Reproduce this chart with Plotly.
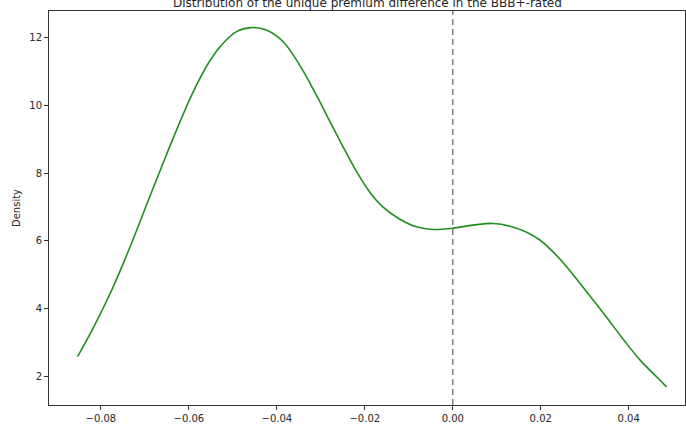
import plotly.graph_objects as go

# KDE curve values
diff_x = [-0.0853, -0.0815, -0.0773, -0.0744, -0.0712, -0.0682, -0.0651, -0.0621,
          -0.0591, -0.0555, -0.0530, -0.0492, -0.0458, -0.0424, -0.0386, -0.0348,
          -0.0310, -0.0280, -0.0250, -0.0219, -0.0189, -0.0159, -0.0122, -0.0083,
          -0.0045, 0.0000, 0.0046, 0.0092, 0.0130, 0.0168, 0.0198, 0.0228,
          0.0259, 0.0289, 0.0319, 0.0350, 0.0388, 0.0426, 0.0464, 0.0486]
density = [2.57, 3.48, 4.61, 5.49, 6.53, 7.53, 8.54, 9.49,
           10.38, 11.26, 11.72, 12.18, 12.30, 12.23, 11.89, 11.19,
           10.30, 9.54, 8.79, 8.05, 7.44, 7.00, 6.65, 6.41,
           6.33, 6.37, 6.46, 6.51, 6.43, 6.25, 6.02, 5.67,
           5.23, 4.74, 4.25, 3.73, 3.08, 2.47, 1.97, 1.68]

x_tickvals = [-0.08, -0.06, -0.04, -0.02, 0.00, 0.02, 0.04]
x_ticktext = ["\u22120.08", "\u22120.06", "\u22120.04", "\u22120.02", "0.00", "0.02", "0.04"]
y_tickvals = [2, 4, 6, 8, 10, 12]
ref_x = 0.0

title_text = "Distribution of the unique premium difference in the BBB+-rated"

fig = go.Figure()
fig.add_trace(go.Scatter(x=diff_x, y=density, mode="lines",
                         line=dict(color="#1f8f1f", width=1.6, shape="spline", smoothing=1.0),
                         showlegend=False, hoverinfo="skip"))

fig.add_shape(type="line", xref="x", yref="paper", x0=ref_x, x1=ref_x, y0=0, y1=1,
              line=dict(color="#808080", width=1.5, dash="6px,4px"))

axis_common = dict(showline=True, linecolor="#333333", linewidth=1, mirror=True,
                   ticks="outside", ticklen=4, tickcolor="#333333", tickwidth=1,
                   showgrid=False, zeroline=False,
                   tickfont=dict(family="DejaVu Sans", size=10, color="#262626"))

fig.update_xaxes(range=[-0.0918, 0.0528], tickmode="array", tickvals=x_tickvals,
                 ticktext=x_ticktext, **axis_common)
fig.update_yaxes(range=[1.143, 12.79], tickmode="array", tickvals=y_tickvals,
                 title=dict(text="Density", font=dict(family="DejaVu Sans", size=10, color="#262626"),
                            standoff=6),
                 **axis_common)

fig.add_annotation(text=title_text, xref="paper", yref="paper", x=0.5, y=1,
                   xanchor="center", yanchor="bottom", yshift=-1, showarrow=False,
                   font=dict(family="DejaVu Sans", size=12, color="#262626"))

fig.update_layout(width=686, height=428, margin=dict(l=49, r=1, t=11, b=23),
                  paper_bgcolor="white", plot_bgcolor="white")

fig.write_html("out.html")
